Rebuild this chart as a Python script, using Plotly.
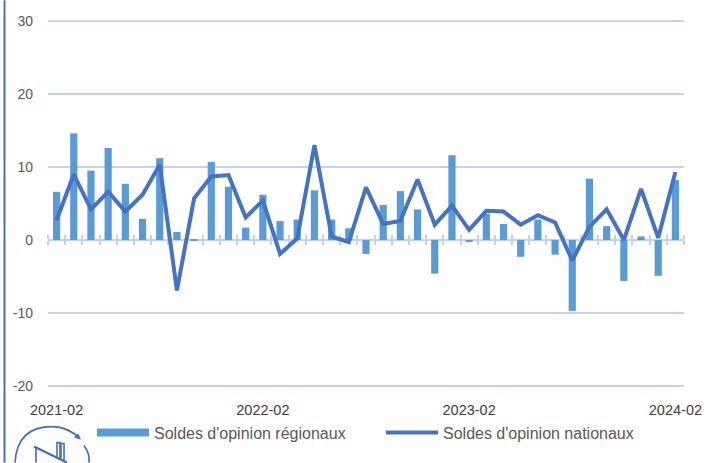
import plotly.graph_objects as go

months = [f"{y}-{m:02d}" for y, m in
          [(2021, m) for m in range(2, 13)] + [(2022, m) for m in range(1, 13)] +
          [(2023, m) for m in range(1, 13)] + [(2024, 1), (2024, 2)]]
regional = [6.6, 14.6, 9.5, 12.6, 7.7, 2.9, 11.2, 1.1, 0.05, 10.7, 7.3, 1.7, 6.2, 2.6, 2.8, 6.8, 2.8, 1.6, -1.9,
            4.8, 6.7, 4.2, -4.6, 11.6, -0.2, 3.6, 2.2, -2.3, 2.8, -2.0, -9.7, 8.4, 1.9, -5.6, 0.5, -4.9, 8.2]
national = [2.7, 9.0, 4.2, 6.6, 3.9, 6.2, 10.3, -6.9, 5.7, 8.7, 8.9, 3.1, 5.4, -1.9, 0.2, 13.0, 0.5, -0.3, 7.2,
            2.2, 2.6, 8.3, 2.1, 4.7, 1.4, 4.0, 3.9, 2.1, 3.4, 2.4, -2.8, 1.8, 4.2, 0.0, 7.0, 0.3, 9.3]
x_labels = ["2021-02", "2022-02", "2023-02", "2024-02"]
y_ticks = [-20, -10, 0, 10, 20, 30]
y_labels = ["-20", "-10", "0", "10", "20", "30"]

W, H = 710, 463
PAD = 0.25                       # keeps the end gridlines from being dropped
SCALE = 7.31
L, R = 48, 684
T, B = 20.5 - PAD * SCALE, 386.5 + PAD * SCALE
BAR = "#5B9BD5"; LINE = "#4472C4"; GRID = "#C3D3EE"; TICK = "#BFD3EE"
ZERO_FRAC = (20 + PAD) / (50 + 2 * PAD)


def px(x): return (x - L) / (R - L)
def py(y): return (B - y) / (B - T)


fig = go.Figure()
fig.add_bar(x=months, y=regional, marker=dict(color=BAR, line_width=0), width=0.42, showlegend=False)
fig.add_scatter(x=months, y=national, mode="lines", line=dict(color=LINE, width=4), showlegend=False)
# tick strip along the zero line (ticks straddle it)
fig.add_scatter(x=months, y=[None] * len(months), xaxis="x2", yaxis="y", showlegend=False, hoverinfo="skip")
fig.add_scatter(x=months, y=[None] * len(months), xaxis="x3", yaxis="y", showlegend=False, hoverinfo="skip")
# legend entries
fig.add_scatter(x=[None], y=[None], mode="lines", name="Soldes d'opinion régionaux", line=dict(color=BAR, width=8))
fig.add_scatter(x=[None], y=[None], mode="lines", name="Soldes d'opinion nationaux", line=dict(color=LINE, width=4), legend="legend2")

shared = dict(type="category", categoryorder="array", categoryarray=months, range=[-0.5, len(months) - 0.5],
              automargin=False)
strip = dict(shared, overlaying="x", anchor="free", position=ZERO_FRAC, showgrid=False, showticklabels=False,
             tickson="boundaries", dtick=1, ticklen=4, tickwidth=1.5, tickcolor=TICK,
             showline=True, linecolor=TICK, linewidth=1.5, layer="below traces")

a = dict(type="path", xref="paper", yref="paper", line=dict(color="#3F6FB5", width=1.6))


def path(points):
    return "M" + " L".join(f"{px(x):.4f},{py(y):.4f}" for x, y in points)


shapes = [
    dict(type="line", xref="paper", yref="paper", x0=px(4.5), x1=px(4.5), y0=py(0), y1=py(H),
         line=dict(color="#4472C4", width=2)),
    dict(a, path=f"M{px(15):.4f},{py(463):.4f} Q{px(17):.4f},{py(427):.4f} {px(52):.4f},{py(427):.4f} "
                 f"Q{px(68):.4f},{py(427):.4f} {px(80):.4f},{py(439):.4f}"),
    dict(a, path=f"M{px(84):.4f},{py(446):.4f} Q{px(90):.4f},{py(454):.4f} {px(89):.4f},{py(463):.4f}"),
    dict(type="path", xref="paper", yref="paper", line_width=0, fillcolor="#3F6FB5",
         path=path([(81, 440), (74, 438), (78, 434)]) + " Z"),
    dict(a, path=path([(34, 447), (67, 463)]), line=dict(color="#3F6FB5", width=2.2)),
    dict(a, path=path([(36, 448), (36, 463)])),
    dict(a, path=path([(57, 458), (57, 443), (60, 443), (60, 459)])),
    dict(a, path=path([(61, 459), (61, 444), (64, 444), (64, 461)])),
]

fig.update_layout(
    width=W, height=H, autosize=False,
    margin=dict(l=L, r=W - R, t=T, b=H - B, pad=0),
    paper_bgcolor="white", plot_bgcolor="white",
    font=dict(family="Liberation Sans, Arial, sans-serif", size=13, color="#595959"),
    xaxis=dict(shared, tickmode="array", tickvals=x_labels, ticktext=x_labels, ticks="", showgrid=False,
               showline=False, zeroline=False, tickfont=dict(size=14.5, color="#404040"), ticklabelstandoff=11),
    xaxis2=dict(strip, ticks="outside", side="bottom"),
    xaxis3=dict(strip, ticks="outside", side="top"),
    yaxis=dict(range=[-20 - PAD, 30 + PAD], tickmode="array", tickvals=y_ticks, ticktext=y_labels, automargin=False,
               showgrid=True, gridcolor=GRID, gridwidth=1.5, zeroline=False, showline=False, ticks="",
               ticklabelstandoff=14, tickfont=dict(size=14, color="#595959")),
    legend=dict(x=px(92), y=py(433), xanchor="left", yanchor="middle", bgcolor="rgba(0,0,0,0)",
                itemwidth=52, font=dict(size=16, color="#595959"), itemclick=False),
    legend2=dict(x=px(381), y=py(433), xanchor="left", yanchor="middle", bgcolor="rgba(0,0,0,0)",
                 itemwidth=52, font=dict(size=16, color="#595959"), itemclick=False),
    shapes=shapes,
)

fig.write_html("out.html", config={"displayModeBar": False},
               post_script="document.body.style.margin='0';")
